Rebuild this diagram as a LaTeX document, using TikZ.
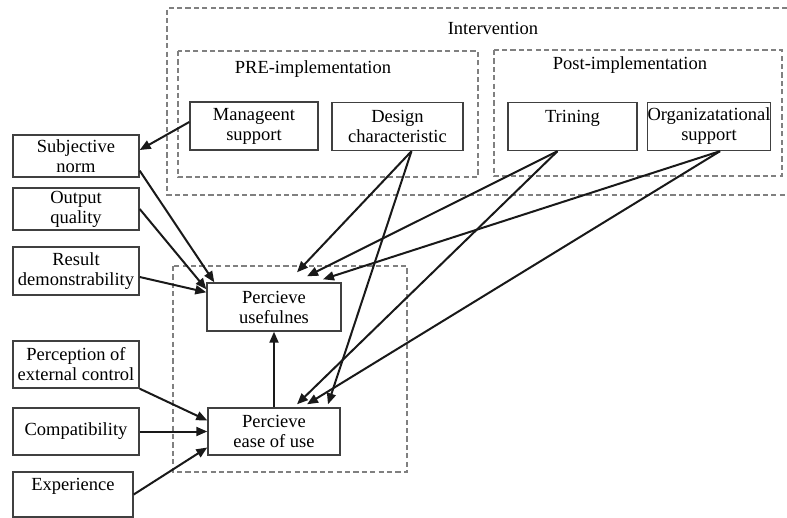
\documentclass[tikz,border=0pt]{standalone}
\usepackage{fontspec}
\setmainfont{LiberationSerif}[Extension=.ttf,UprightFont=*-Regular,BoldFont=*-Bold,ItalicFont=*-Italic]
\usetikzlibrary{arrows.meta,positioning}
\tikzset{box/.style={draw=black!75,line width=0.7pt,rectangle,minimum height=24pt,align=center,inner sep=0pt,font=\rmfamily\fontsize{9.25}{10}\selectfont},
 lbl/.style={inner sep=0pt,font=\rmfamily\fontsize{9.25}{10}\selectfont},
 frm/.style={draw=black!50,line width=0.6pt,dash pattern=on 2.6pt off 1.6pt},
 arr/.style={-{Triangle[length=5.5pt,width=4.5pt]},line width=1pt,black!90}}
\begin{document}
\begin{tikzpicture}[x=0.5pt,y=-0.5pt]
\useasboundingbox(0,0)rectangle(787,518);
\draw[frm](787,8)--(167,8)--(167,195)--(787,195);
\draw[frm](178,51)rectangle(478,177);\draw[frm](494,50)rectangle(782,176);\draw[frm](173,266)rectangle(407,472);
\node[lbl](intv)at(493,28){Intervention};\node[lbl](pre)at(313,69){PRE-implementation};\node[lbl](post)at(630,65){Post-implementation};
\node[box,minimum width=64pt](mgmt)at(254,126){Manageent\\support};
\node[box,minimum width=65.5pt](design)at(397.5,126.5){Design\\characteristic};
\node[box,minimum width=64.5pt](train)at(572.5,126.5){Trining\\~};
\node[box,minimum width=61pt](org)at(709,126.5){Organizatational\\support};
\node[box,minimum width=63pt,minimum height=21pt](subj)at(76,156){Subjective\\norm};
\node[box,minimum width=63pt,minimum height=21pt](outq)at(76,209){Output\\quality};
\node[box,minimum width=63pt](res)at(76,271){Result\\demonstrability};
\node[box,minimum width=63pt,minimum height=23.5pt](perc)at(76,364.5){Perception of\\external control};
\node[box,minimum width=63pt,minimum height=23.5pt](comp)at(76,431.5){Compatibility};
\node[box,minimum width=60pt,minimum height=22.5pt](exp)at(73,494.5){Experience\\~};
\node[box,minimum width=67pt](pu)at(274,307){Percieve\\usefulnes};
\node[box,minimum width=66pt,minimum height=23.5pt](peou)at(274,431.5){Percieve\\ease of use};
\draw[arr]([yshift=2pt]mgmt.west)--([yshift=3pt]subj.east);
\draw[arr]([yshift=3.5pt]subj.south east)--([xshift=4pt]pu.north west);
\draw[arr](outq.east)--([yshift=-3.5pt]pu.north west);
\draw[arr]([yshift=-3pt]res.east)--([yshift=-5pt]pu.north west);
\draw[arr]([xshift=7pt]design.south)--([shift={(11.5pt,5pt)}]pu.north);
\draw[arr]([xshift=7pt]design.south)--([shift={(27pt,1.5pt)}]peou.north);
\draw[arr]([xshift=-7.5pt]train.south)--([shift={(16.5pt,3pt)}]pu.north);
\draw[arr]([xshift=-7.5pt]train.south)--([shift={(11.5pt,1.5pt)}]peou.north);
\draw[arr]([xshift=5.5pt]org.south)--([shift={(24.5pt,1.5pt)}]pu.north);
\draw[arr]([xshift=5.5pt]org.south)--([shift={(16.5pt,1.5pt)}]peou.north);
\draw[arr](peou.north)--(pu.south);
\draw[arr](perc.south east)--([yshift=5.5pt]peou.west);
\draw[arr](comp.east)--(peou.west);
\draw[arr](exp.east)--([yshift=-8pt]peou.west);
\end{tikzpicture}
\end{document}
